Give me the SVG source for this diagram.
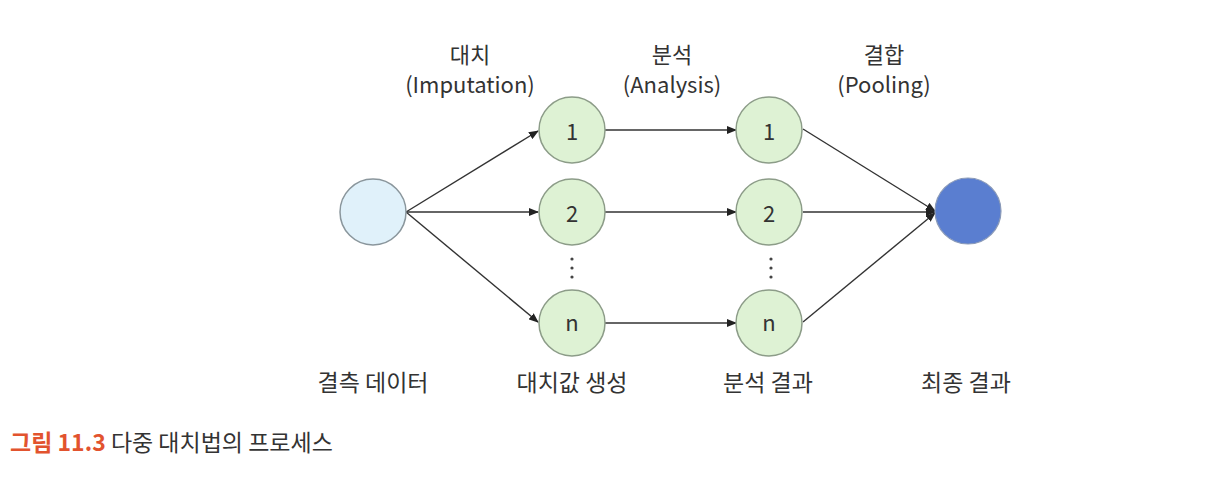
<svg xmlns="http://www.w3.org/2000/svg" width="1209" height="486" viewBox="0 0 1209 486">
<style>
text{font-family:"Noto Sans CJK KR","Noto Sans",sans-serif;fill:#333;}
.top{font-size:22px;text-anchor:middle;}
.lbl{font-size:23px;text-anchor:middle;}
.num{font-size:22px;text-anchor:middle;dominant-baseline:central;}
.g{fill:#def2d4;stroke:#8c9c88;stroke-width:1.5;}
.c{stroke:#333;stroke-width:1.4;fill:none;marker-end:url(#ah);}
.dot{fill:#444;}
</style>
<defs>
<marker id="ah" markerWidth="10" markerHeight="8" refX="9" refY="4" orient="auto" markerUnits="userSpaceOnUse">
<path d="M0,0 L10,4 L0,8 Z" fill="#222"/>
</marker>
</defs>
<rect width="1209" height="486" fill="#fff"/>
<g id="top-labels">
<text class="top" x="470" y="63">대치</text>
<text class="top" x="470" y="93">(Imputation)</text>
<text class="top" x="672" y="63">분석</text>
<text class="top" x="672" y="93">(Analysis)</text>
<text class="top" x="884" y="63">결합</text>
<text class="top" x="884" y="93">(Pooling)</text>
</g>
<g id="connectors">
<line class="c" x1="406" y1="212" x2="538" y2="131"/>
<line class="c" x1="406" y1="212" x2="538" y2="212"/>
<line class="c" x1="406" y1="212" x2="538" y2="322"/>
<line class="c" x1="605" y1="130" x2="736" y2="130"/>
<line class="c" x1="605" y1="212" x2="736" y2="212"/>
<line class="c" x1="605" y1="323" x2="736" y2="323"/>
<line class="c" x1="803" y1="129" x2="935" y2="211"/>
<line class="c" x1="803" y1="212" x2="935" y2="212"/>
<line class="c" x1="803" y1="322" x2="935" y2="213"/>
</g>
<g id="missing-data">
<circle cx="373" cy="212" r="33" fill="#e0f1fa" stroke="#8a969c" stroke-width="1.5"/>
<text class="lbl" x="373" y="391">결측 데이터</text>
</g>
<g id="imp-1"><circle class="g" cx="572" cy="130" r="33"/><text class="num" x="572" y="130">1</text></g>
<g id="imp-2"><circle class="g" cx="572" cy="212" r="33"/><text class="num" x="572" y="212">2</text></g>
<g id="imp-dots"><circle class="dot" cx="572" cy="259" r="1.6"/><circle class="dot" cx="572" cy="268" r="1.6"/><circle class="dot" cx="572" cy="277" r="1.6"/></g>
<g id="imp-n"><circle class="g" cx="572" cy="323" r="33"/><text class="num" x="572" y="321">n</text></g>
<g id="imp-label"><text class="lbl" x="572" y="391">대치값 생성</text></g>
<g id="ana-1"><circle class="g" cx="769" cy="130" r="33"/><text class="num" x="769" y="130">1</text></g>
<g id="ana-2"><circle class="g" cx="769" cy="212" r="33"/><text class="num" x="769" y="212">2</text></g>
<g id="ana-dots"><circle class="dot" cx="771" cy="259" r="1.6"/><circle class="dot" cx="771" cy="268" r="1.6"/><circle class="dot" cx="771" cy="277" r="1.6"/></g>
<g id="ana-n"><circle class="g" cx="769" cy="323" r="33"/><text class="num" x="769" y="321">n</text></g>
<g id="ana-label"><text class="lbl" x="768" y="391">분석 결과</text></g>
<g id="final">
<circle cx="968" cy="211" r="33" fill="#5a7ed0" stroke="#8a9ab8" stroke-width="1.2"/>
<text class="lbl" x="966" y="391">최종 결과</text>
</g>
<g id="caption">
<text x="10" y="451" font-size="23"><tspan fill="#e2532e" font-weight="bold">그림 11.3</tspan><tspan> 다중 대치법의 프로세스</tspan></text>
</g>
</svg>
